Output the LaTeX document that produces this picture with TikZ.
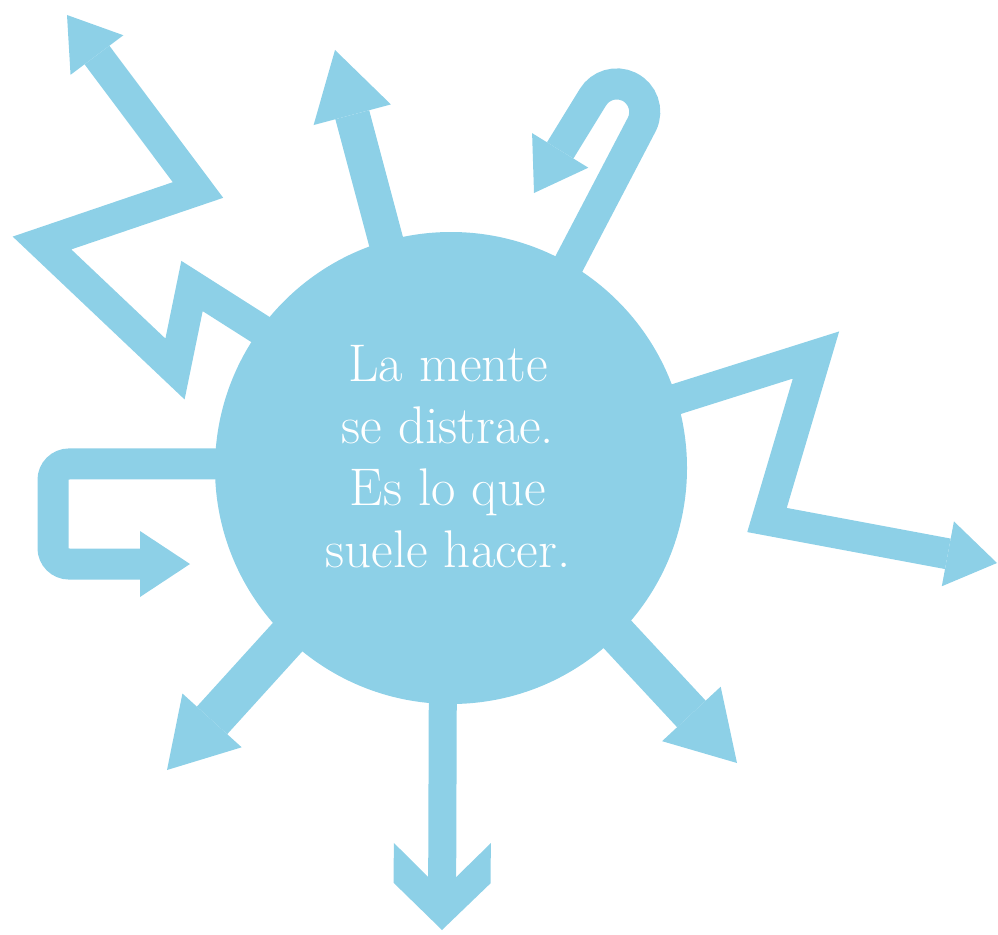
\documentclass[tikz,border=0pt]{standalone}
\usepackage{fontspec}
\usepackage{tikz}
\usepackage{xcolor}
\usetikzlibrary{arrows.meta}

\definecolor{mindblue}{RGB}{141,208,231}

% notched head for the arrow pointing down
\pgfdeclarearrow{
  name = Chevron,
  setup code = {
    \pgfarrowssettipend{0pt}
    \pgfarrowssetlineend{-49pt}
    \pgfarrowssetbackend{-87pt}
  },
  drawing code = {
    \pgfpathmoveto{\pgfqpoint{0pt}{0pt}}
    \pgfpathlineto{\pgfqpoint{-47pt}{48.5pt}}
    \pgfpathlineto{\pgfqpoint{-87pt}{48.5pt}}
    \pgfpathlineto{\pgfqpoint{-53pt}{14pt}}
    \pgfpathlineto{\pgfqpoint{-53pt}{-14pt}}
    \pgfpathlineto{\pgfqpoint{-87pt}{-48.5pt}}
    \pgfpathlineto{\pgfqpoint{-47pt}{-48.5pt}}
    \pgfpathclose
    \pgfusepathqfill
  }
}

\begin{document}
\begin{tikzpicture}[x=1pt, y=1pt, yscale=-1,
    mind/.style={circle, fill=mindblue, inner sep=0pt, minimum size=472pt},
    thought/.style={text=white, align=center, font=\fontsize{53}{62}\selectfont},
    wander/.style={mindblue, line width=31pt, line join=miter, shorten <=-12pt},
    smallhead/.style={-{Triangle[length=50pt, width=66pt, line width=0pt]}},
    bighead/.style={-{Triangle[length=67pt, width=80pt, line width=0pt]}}]
            \useasboundingbox (0,0) rectangle (998,934);

            % The mind
            \node[mind] (mind) at (451,468) {};

            % Where the arrows end
            \coordinate (zigtip) at (67,15);
            \coordinate (uptip) at (335,50);
            \coordinate (hooktip) at (534,193);
            \coordinate (righttip) at (997,563);
            \coordinate (brtip) at (737,763);
            \coordinate (downtip) at (442,930);
            \coordinate (bltip) at (167,770);
            \coordinate (looptip) at (190,564);

            \draw[wander, smallhead] (mind.144) -- (192,286) -- (175,369) -- (42,243) -- (198,190) -- (zigtip);
            \draw[wander, bighead, line width=35pt] (mind.106) -- (uptip);
            \draw[wander, smallhead] (mind.60) -- (642,124) arc[start angle=25.6, end angle=-148.7, radius=28pt] -- (hooktip);
            \draw[wander, smallhead] (mind.17) -- (816,355) -- (767,520) -- (righttip);
            \draw[wander, bighead, line width=39pt] (mind.-45) -- (brtip);
            \draw[wander, line width=28pt, -{Chevron}] (mind.-92) -- (downtip);
            \draw[wander, bighead, line width=41pt] (mind.226) -- (bltip);
            \draw[wander, smallhead, rounded corners=16pt] (mind.179) -- (53,464) -- (53,564) -- (looptip);

            % The words
            \node[thought] (words) at (448,457) {La mente\\se distrae.\\Es lo que\\suele hacer.};
        \end{tikzpicture}
\end{document}
